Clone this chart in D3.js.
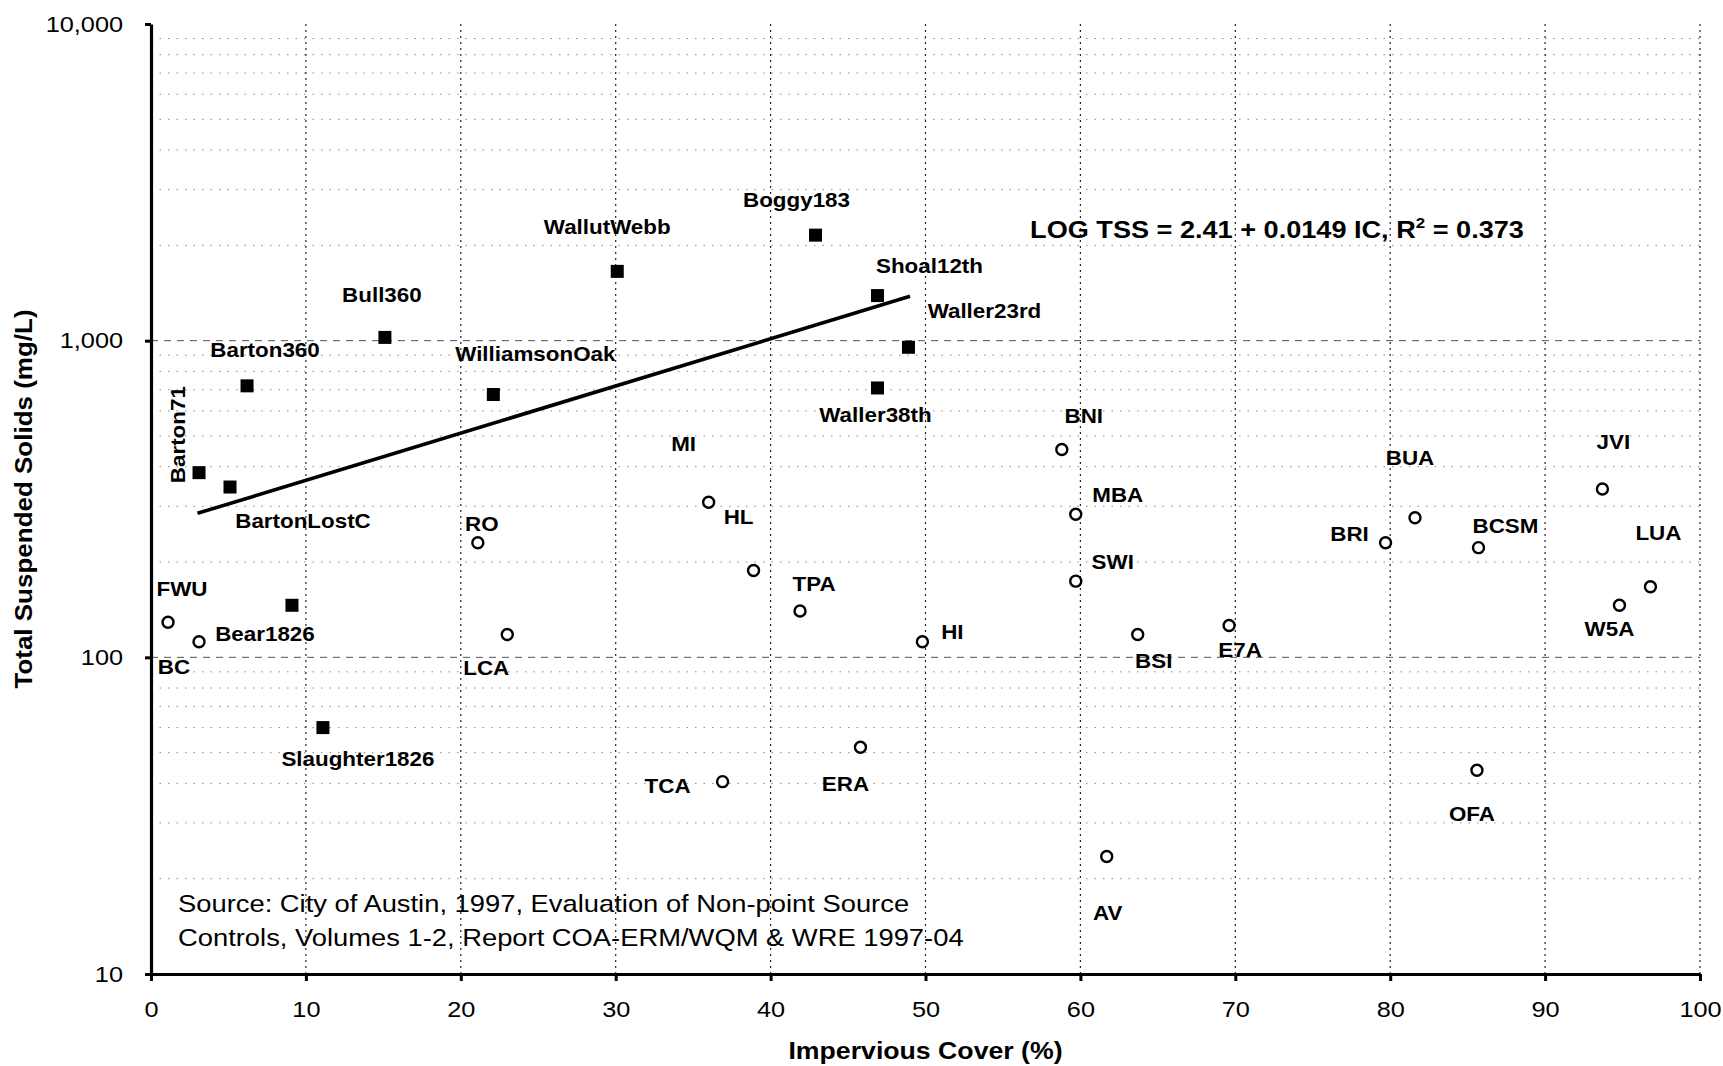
<!DOCTYPE html>
<meta charset="utf-8">
<script src="https://d3js.org/d3.v7.min.js"></script>
<style>
  body { margin: 0; background: #fff; }
  text { font-family: "Liberation Sans", Arial, sans-serif; fill: #000; }
</style>
<div id="chart"></div>
<script>
// creek monitoring sites (filled squares)
var creekSites = ["Barton71", "BartonLostC", "Barton360", "Bear1826", "Slaughter1826", "Bull360",
                  "WilliamsonOak", "WallutWebb", "Boggy183", "Shoal12th", "Waller23rd", "Waller38th"];
var creekIC  = [3.1, 5.1, 6.2, 9.1, 11.1, 15.1, 22.1, 30.1, 42.9, 46.9, 48.9, 46.9];
var creekTSS = [383, 345, 720, 146, 60, 1024, 676, 1655, 2154, 1388, 953, 709];

// other sites (open circles)
var otherSites = ["FWU", "BC", "RO", "LCA", "MI", "HL", "TPA", "HI", "TCA", "ERA", "BNI", "MBA",
                  "SWI", "BSI", "AV", "E7A", "BRI", "BUA", "BCSM", "OFA", "JVI", "LUA", "W5A"];
var otherIC  = [1.1, 3.1, 21.1, 23.0, 36.0, 38.9, 41.9, 49.8, 36.9, 45.8, 58.8, 59.7,
                59.7, 63.7, 61.7, 69.6, 79.7, 81.6, 85.7, 85.6, 93.7, 96.8, 94.8];
var otherTSS = [129, 112, 230, 118, 309, 188, 140, 112, 40.5, 52, 453, 283,
                174, 118, 23.5, 126, 230, 276, 222, 44, 340, 167, 146];

// regression: LOG TSS = 2.41 + 0.0149 IC, fitted over IC 3..49
var fitIntercept = 2.41, fitSlope = 0.0149, fitR2 = 0.373;
var fitIC = [3, 49];

var xTicks = [0, 10, 20, 30, 40, 50, 60, 70, 80, 90, 100];
var yTicks = [10, 100, 1000, 10000];

var sourceLines = ["Source: City of Austin, 1997, Evaluation of Non-point Source",
                   "Controls, Volumes 1-2, Report COA-ERM/WQM & WRE 1997-04"];

// where each site label sits relative to its marker (px)
var labelNudge = {
  Barton71: [-21, -38], BartonLostC: [73, 34], Barton360: [18, -36], Bear1826: [-27, 29],
  Slaughter1826: [35, 31], Bull360: [-3, -43], WilliamsonOak: [42, -41], WallutWebb: [-10, -45],
  Boggy183: [-19, -35], Shoal12th: [52, -30], Waller23rd: [76, -36], Waller38th: [-2, 27],
  FWU: [14, -34], BC: [-25, 25], RO: [4, -19], LCA: [-21, 33], MI: [-25, -58], HL: [-15, -54],
  TPA: [14, -27], HI: [30, -10], TCA: [-55, 4], ERA: [-15, 37], BNI: [22, -34], MBA: [42, -19],
  SWI: [37, -19], BSI: [16, 26], AV: [1, 56], E7A: [11, 24], BRI: [-36, -9], BUA: [-5, -60],
  BCSM: [27, -22], OFA: [-5, 44], JVI: [11, -47], LUA: [8, -54], W5A: [-10, 24]
};

var W = 1723, H = 1066;
var svg = d3.select("#chart").append("svg")
    .attr("width", W)
    .attr("height", H);

var x = d3.scaleLinear().domain([0, 100]).range([151, 1700]);
var y = d3.scaleLog().domain([10, 10000]).range([974, 24]);

// the scanned original uses a wider face than Liberation Sans: stretch text horizontally
function placed(px, py, sx, extra) {
  return "translate(" + px + "," + py + ")" + (extra || "") + " scale(" + sx + ",1)";
}

// grid lines
var minorY = [];
[10, 100, 1000].forEach(function(dec) {
  for (var k = 2; k <= 9; k++) minorY.push(k * dec);
});
svg.append("g").selectAll("line").data(minorY).enter().append("line")
    .attr("x1", x(0)).attr("x2", x(100))
    .attr("y1", function(d) { return y(d); }).attr("y2", function(d) { return y(d); })
    .attr("stroke", "#8a8a8a").attr("stroke-width", 1).attr("stroke-dasharray", "1.5,7");
svg.append("g").selectAll("line").data([100, 1000]).enter().append("line")
    .attr("x1", x(0)).attr("x2", x(100))
    .attr("y1", function(d) { return y(d); }).attr("y2", function(d) { return y(d); })
    .attr("stroke", "#555").attr("stroke-width", 1).attr("stroke-dasharray", "7,6");
svg.append("g").selectAll("line").data(xTicks.slice(1)).enter().append("line")
    .attr("x1", function(d) { return x(d); }).attr("x2", function(d) { return x(d); })
    .attr("y1", y(10000)).attr("y2", y(10))
    .attr("stroke", "#222").attr("stroke-width", 1.2).attr("stroke-dasharray", "2,4");

// axes
var yAxis = svg.append("g")
    .attr("transform", "translate(" + x(0) + ",0)")
    .call(d3.axisLeft(y).tickValues(yTicks).tickFormat(d3.format(",")).tickSize(6).tickSizeOuter(0).tickPadding(22));
var xAxis = svg.append("g")
    .attr("transform", "translate(0," + y(10) + ")")
    .call(d3.axisBottom(x).tickValues(xTicks).tickSize(7).tickSizeOuter(0).tickPadding(20));
[xAxis, yAxis].forEach(function(a) {
  a.select(".domain").attr("stroke", "#000").attr("stroke-width", 3.2);
  a.selectAll(".tick line").attr("stroke", "#000").attr("stroke-width", 3);
  a.selectAll(".tick text").attr("font-size", 22).attr("font-family", "Liberation Sans, Arial, sans-serif");
});
yAxis.selectAll(".tick text").attr("x", -28 / 1.15).attr("transform", "scale(1.15,1)");
xAxis.selectAll(".tick text").attr("transform", "scale(1.15,1)");

// regression line
var fit = d3.line()
    .x(function(d) { return x(d); })
    .y(function(d) { return y(Math.pow(10, fitIntercept + fitSlope * d)); });
svg.append("path")
    .attr("d", fit(fitIC))
    .attr("fill", "none").attr("stroke", "#000").attr("stroke-width", 3.6);

// markers
var creek = creekSites.map(function(s, i) { return {name: s, ic: creekIC[i], tss: creekTSS[i]}; });
var other = otherSites.map(function(s, i) { return {name: s, ic: otherIC[i], tss: otherTSS[i]}; });

svg.append("g").selectAll("rect").data(creek).enter().append("rect")
    .attr("x", function(d) { return x(d.ic) - 6.5; })
    .attr("y", function(d) { return y(d.tss) - 6.5; })
    .attr("width", 13).attr("height", 13)
    .attr("fill", "#000");

svg.append("g").selectAll("circle").data(other).enter().append("circle")
    .attr("cx", function(d) { return x(d.ic); })
    .attr("cy", function(d) { return y(d.tss); })
    .attr("r", 5.5)
    .attr("fill", "#fff").attr("stroke", "#000").attr("stroke-width", 2.4);

// site labels
svg.append("g").selectAll("text").data(creek.concat(other)).enter().append("text")
    .attr("transform", function(d) {
      var n = labelNudge[d.name];
      return placed(x(d.ic) + n[0], y(d.tss) + n[1], 1.12, d.name === "Barton71" ? " rotate(-90)" : "");
    })
    .attr("text-anchor", "middle")
    .attr("dy", "0.36em")
    .attr("font-size", 20)
    .attr("font-weight", "bold")
    .text(function(d) { return d.name; });

// equation
var eq = svg.append("text")
    .attr("transform", placed(1277, 238, 1.13))
    .attr("text-anchor", "middle")
    .attr("font-size", 24).attr("font-weight", "bold");
eq.append("tspan").text("LOG TSS = " + fitIntercept + " + " + fitSlope + " IC, R");
eq.append("tspan").attr("font-size", 15).attr("dy", -10).text("2");
eq.append("tspan").attr("dy", 10).text(" = " + fitR2);

// source note
svg.append("g").selectAll("text").data(sourceLines).enter().append("text")
    .attr("transform", function(d, i) { return placed(178, 912 + i * 34, 1.14); })
    .attr("font-size", 24)
    .text(function(d) { return d; });

// axis titles
svg.append("text")
    .attr("transform", placed((x(0) + x(100)) / 2, 1059, 1.16))
    .attr("text-anchor", "middle")
    .attr("font-size", 23).attr("font-weight", "bold")
    .text("Impervious Cover (%)");
svg.append("text")
    .attr("transform", placed(32, (y(10) + y(10000)) / 2, 1.13, " rotate(-90)"))
    .attr("text-anchor", "middle")
    .attr("font-size", 23).attr("font-weight", "bold")
    .text("Total Suspended Solids (mg/L)");
</script>
